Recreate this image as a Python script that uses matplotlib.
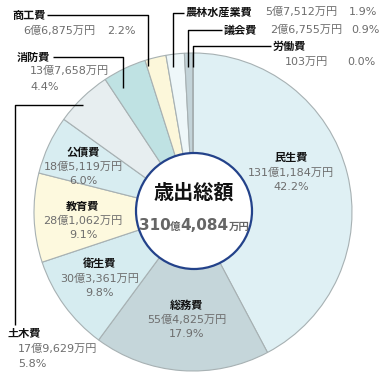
import matplotlib
matplotlib.use("Agg")
import matplotlib.pyplot as plt
from matplotlib.patches import Circle

plt.rcParams['font.family'] = ['DejaVu Sans', 'Noto Sans CJK JP']
JP = ['Noto Sans CJK JP', 'DejaVu Sans']

# data (万円), clockwise from 12 o'clock
names = ['民生費', '総務費', '衛生費', '教育費', '公債費', '土木費',
         '消防費', '商工費', '農林水産業費', '議会費', '労働費']
amounts = [1311184, 554825, 303361, 281062, 185119, 179629,
           137658, 66875, 57512, 26755, 103]
pcts = [42.2, 17.9, 9.8, 9.1, 6.0, 5.8, 4.4, 2.2, 1.9, 0.9, 0.0]
colors = ['#dff0f4', '#c5d6da', '#d6ecf0', '#fdf9de', '#d8edf1', '#e7eef0',
          '#bfe2e3', '#fcf7da', '#eef7f9', '#c3d3d8', '#b0c0c6']
total_label = ('310', '億', '4,084', '万円')

W, H = 388, 378
def P(x, y):
    # pixel (top-left origin) -> data
    return x, H - y

def fmt(v):
    oku, man = divmod(v, 10000)
    if oku:
        return f"{oku}億{man:,}万円"
    return f"{man}万円"

NAME_C = '#111111'
VAL_C = '#6d6d6d'
name_fs = 8
val_fs = 8

fig = plt.figure(figsize=(W / 100, H / 100), dpi=100)
ax = fig.add_axes([0, 0, 1, 1])

ax.pie(amounts, colors=colors, startangle=90, counterclock=False,
       center=P(193, 212), radius=159,
       wedgeprops=dict(edgecolor='#a7b1b3', linewidth=0.8))
# pie resets the limits, so set the pixel frame afterwards
ax.set_aspect('auto')
ax.set_xlim(0, W)
ax.set_ylim(0, H)
ax.axis('off')

# labels inside wedges: index -> centre pixel of name line
inside = {0: (291, 158), 1: (187, 305), 2: (100, 264), 3: (83, 206), 4: (83, 152)}
for i, (x, y) in inside.items():
    ax.text(*P(x, y), names[i], ha='center', va='center', fontsize=name_fs,
            fontweight='bold', color=NAME_C, family=JP)
    ax.text(*P(x, y + 15), fmt(amounts[i]), ha='center', va='center',
            fontsize=val_fs, color=VAL_C)
    ax.text(*P(x, y + 29), f"{pcts[i]:.1f}%", ha='center', va='center',
            fontsize=val_fs, color=VAL_C)

# leader lines (pixel polylines)
leaders = {
    5: [(15, 325), (15, 105), (83, 105)],
    6: [(53, 57), (123, 57), (123, 88)],
    7: [(47, 15), (148, 15), (148, 66)],
    8: [(184, 13), (173, 13), (173, 67)],
    9: [(222, 30), (188, 30), (188, 67)],
    10: [(271, 46), (193, 46), (193, 67)],
}
for i, pts in leaders.items():
    xs = [p[0] for p in pts]
    ys = [H - p[1] for p in pts]
    ax.plot(xs, ys, color='black', lw=1.0, solid_capstyle='butt')

# outside labels: name pos, value pos, pct pos (left aligned)
outside = {
    5: ((7, 333), (18, 349), (18, 364)),
    6: ((17, 57), (30, 71), (30, 87)),
    7: ((12, 15), (23, 31), (107, 31)),
    8: ((186, 12), (265, 12), (349, 12)),
    9: ((224, 30), (270, 30), (351, 30)),
    10: ((273, 46), (285, 62), (347, 62)),
}
for i, (pn, pv, pp) in outside.items():
    ax.text(*P(*pn), names[i], ha='left', va='center', fontsize=name_fs,
            fontweight='bold', color=NAME_C, family=JP)
    ax.text(*P(*pv), fmt(amounts[i]), ha='left', va='center',
            fontsize=val_fs, color=VAL_C)
    ax.text(*P(*pp), f"{pcts[i]:.1f}%", ha='left', va='center',
            fontsize=val_fs, color=VAL_C)

# centre circle
ax.add_patch(Circle(P(194, 211), 58, facecolor='white', edgecolor='#23428a',
                    linewidth=1.6, zorder=5))
ax.text(*P(194, 192), '歳出総額', ha='center', va='center', fontsize=14.5,
        fontweight='bold', color='#111111', family=JP, zorder=6)

# total amount with mixed sizes
renderer = fig.canvas.get_renderer()
sizes = [11, 7.5, 11, 7.5]
pieces = []
for s, fs in zip(total_label, sizes):
    t = ax.text(0, H - 230, s, ha='left', va='baseline', fontsize=fs,
                fontweight='bold', color='#666666', zorder=6)
    pieces.append(t)
widths = [t.get_window_extent(renderer).width for t in pieces]
x0 = 194 - sum(widths) / 2
for t, w in zip(pieces, widths):
    t.set_x(x0)
    x0 += w

fig.savefig('out.png', dpi=100)
